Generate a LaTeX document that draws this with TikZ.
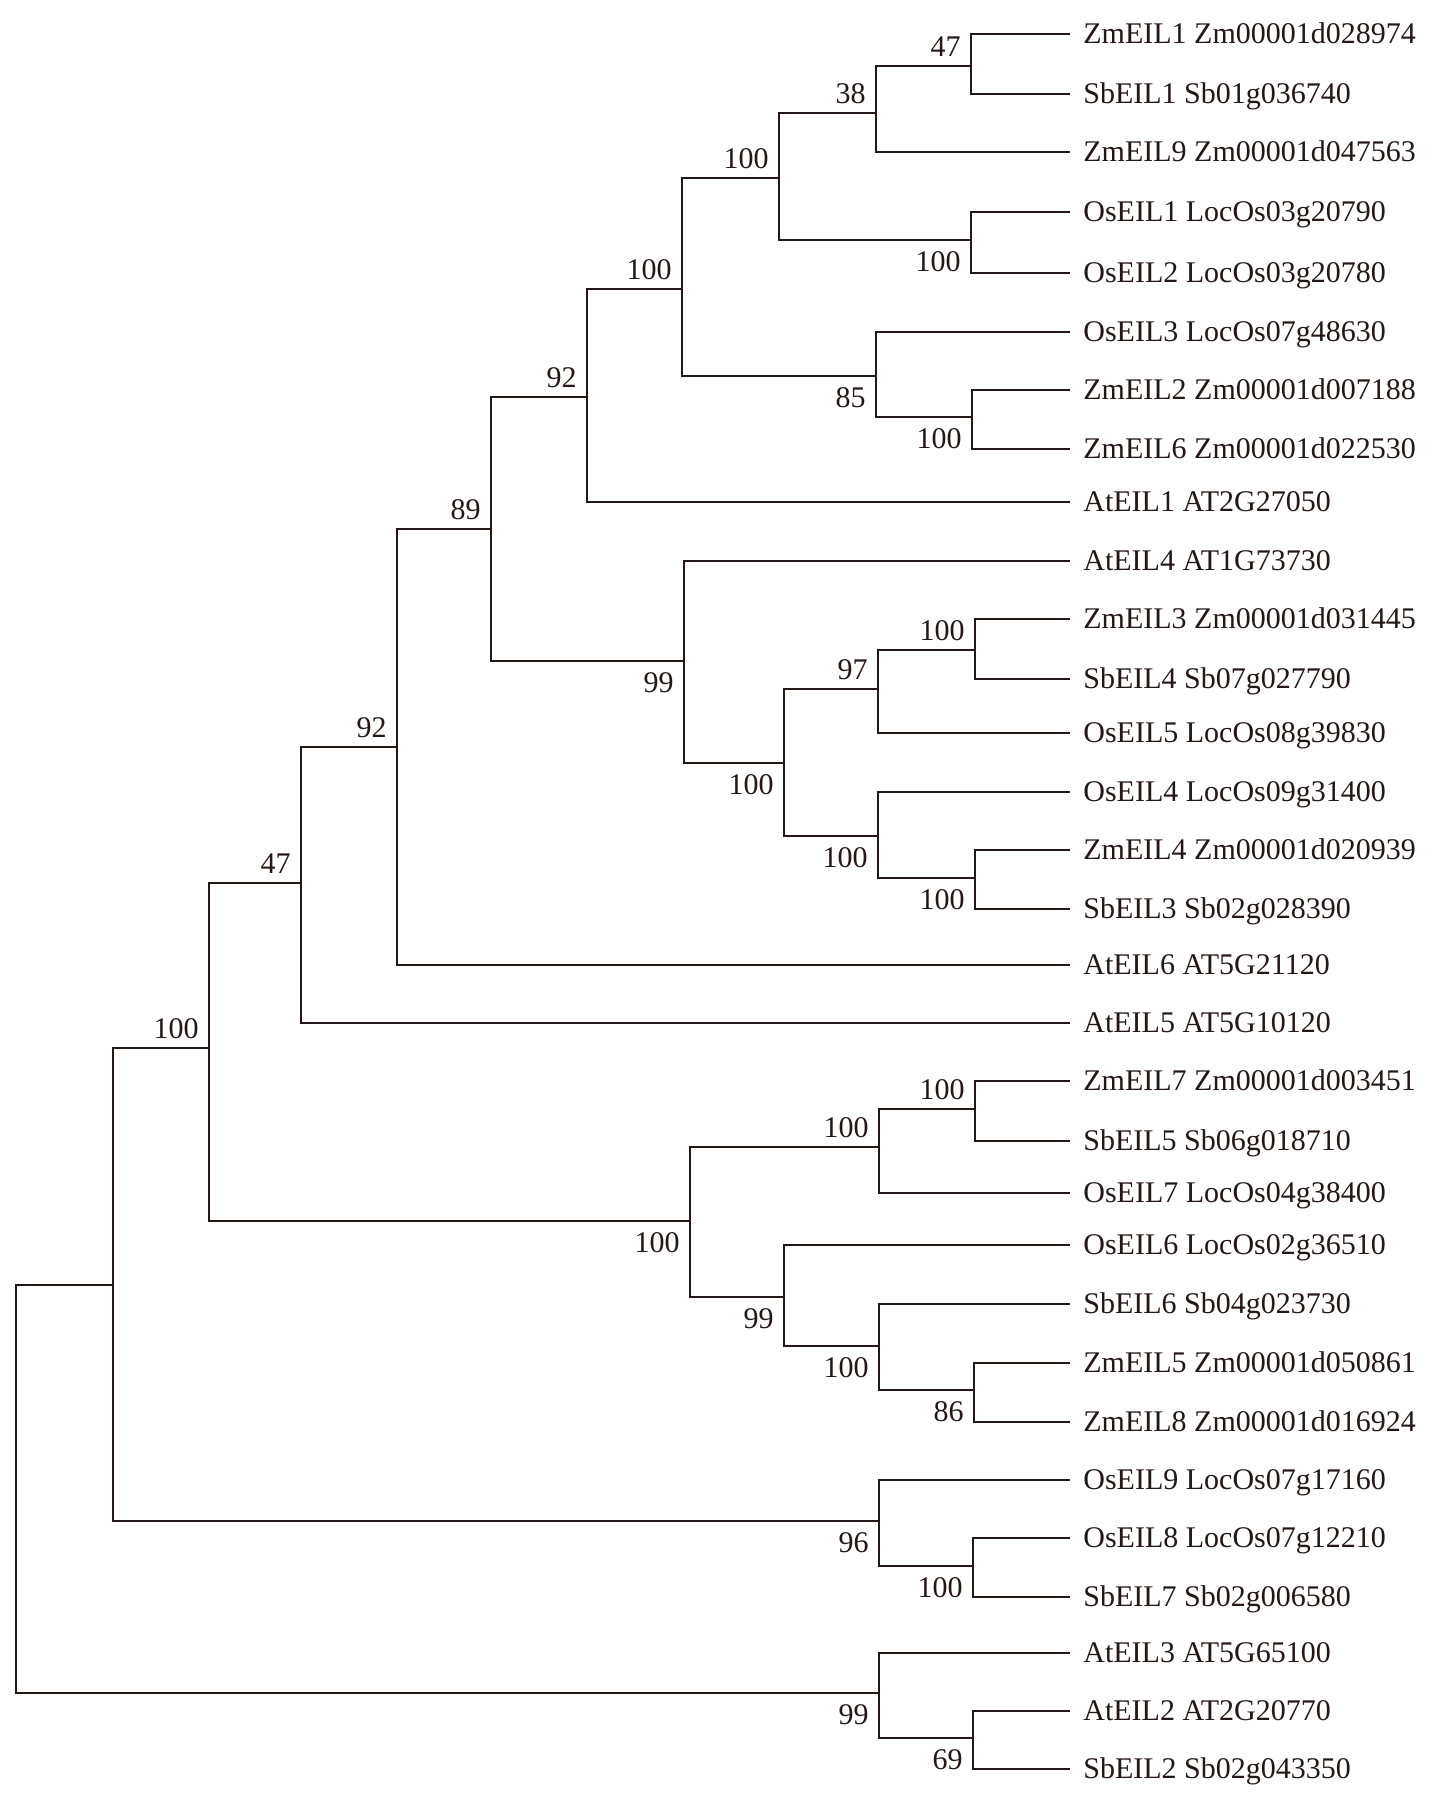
\documentclass[tikz,border=0pt]{standalone}
\usepackage{fontspec}
\setmainfont{Liberation Serif}
\usetikzlibrary{calc}
\definecolor{ink}{RGB}{35,24,21}
\begin{document}
\begin{tikzpicture}[x=0.5pt,y=-0.5pt,
  br/.style={line width=1.4pt,draw=ink},
  leaf/.style={anchor=base west,inner sep=0pt,text=ink,font=\fontsize{15}{18}\selectfont},
  bs/.style={anchor=base east,inner sep=0pt,text=ink,font=\fontsize{15}{18}\selectfont}]
\useasboundingbox (0,0) rectangle (1454,1806);
% leaves
\foreach \i/\y/\t in {
 1/34/{ZmEIL1 Zm00001d028974},
 2/94/{SbEIL1 Sb01g036740},
 3/152/{ZmEIL9 Zm00001d047563},
 4/212/{OsEIL1 LocOs03g20790},
 5/273/{OsEIL2 LocOs03g20780},
 6/332/{OsEIL3 LocOs07g48630},
 7/390/{ZmEIL2 Zm00001d007188},
 8/449/{ZmEIL6 Zm00001d022530},
 9/502/{AtEIL1 AT2G27050},
 10/561/{AtEIL4 AT1G73730},
 11/619/{ZmEIL3 Zm00001d031445},
 12/679/{SbEIL4 Sb07g027790},
 13/733/{OsEIL5 LocOs08g39830},
 14/792/{OsEIL4 LocOs09g31400},
 15/850/{ZmEIL4 Zm00001d020939},
 16/909/{SbEIL3 Sb02g028390},
 17/965/{AtEIL6 AT5G21120},
 18/1023/{AtEIL5 AT5G10120},
 19/1081/{ZmEIL7 Zm00001d003451},
 20/1141/{SbEIL5 Sb06g018710},
 21/1193/{OsEIL7 LocOs04g38400},
 22/1245/{OsEIL6 LocOs02g36510},
 23/1304/{SbEIL6 Sb04g023730},
 24/1363/{ZmEIL5 Zm00001d050861},
 25/1422/{ZmEIL8 Zm00001d016924},
 26/1480/{OsEIL9 LocOs07g17160},
 27/1538/{OsEIL8 LocOs07g12210},
 28/1597/{SbEIL7 Sb02g006580},
 29/1653/{AtEIL3 AT5G65100},
 30/1711/{AtEIL2 AT2G20770},
 31/1769/{SbEIL2 Sb02g043350}}{
  \coordinate (L\i) at (1070,\y);
  \node[leaf] (T\i) at (1083,\y+9.5) {\t};
}
% internal nodes
\coordinate (n47a) at (971,66);
\coordinate (n38) at (876,113);
\coordinate (n100a) at (779,178);
\coordinate (n100b) at (971,240);
\coordinate (n100c) at (682,289);
\coordinate (n85) at (876,376);
\coordinate (n100d) at (972,417);
\coordinate (n92a) at (587,397);
\coordinate (n89) at (491,529);
\coordinate (n99a) at (684,661);
\coordinate (n100e) at (784,763);
\coordinate (n97) at (878,689);
\coordinate (n100f) at (975,650);
\coordinate (n100g) at (878,836);
\coordinate (n100h) at (975,878);
\coordinate (n92b) at (397,747);
\coordinate (n47b) at (301,883);
\coordinate (n100i) at (209,1048);
\coordinate (n100j) at (690,1221);
\coordinate (n100k) at (879,1147);
\coordinate (n100l) at (975,1109);
\coordinate (n99b) at (784,1297);
\coordinate (n100m) at (879,1346);
\coordinate (n86) at (974,1390);
\coordinate (n113) at (113,1285);
\coordinate (n96) at (879,1521);
\coordinate (n100n) at (973,1566);
\coordinate (n99c) at (879,1693);
\coordinate (n69) at (973,1738);
\coordinate (root) at (16,1489);
% branches
\draw[br] (L1) -| (n47a) |- (L2);
\draw[br] (n47a) -| (n38) |- (L3);
\draw[br] (L4) -| (n100b) |- (L5);
\draw[br] (n38) -| (n100a) |- (n100b);
\draw[br] (L7) -| (n100d) |- (L8);
\draw[br] (L6) -| (n85) |- (n100d);
\draw[br] (n100a) -| (n100c) |- (n85);
\draw[br] (n100c) -| (n92a) |- (L9);
\draw[br] (L11) -| (n100f) |- (L12);
\draw[br] (n100f) -| (n97) |- (L13);
\draw[br] (L15) -| (n100h) |- (L16);
\draw[br] (L14) -| (n100g) |- (n100h);
\draw[br] (n97) -| (n100e) |- (n100g);
\draw[br] (L10) -| (n99a) |- (n100e);
\draw[br] (n92a) -| (n89) |- (n99a);
\draw[br] (n89) -| (n92b) |- (L17);
\draw[br] (n92b) -| (n47b) |- (L18);
\draw[br] (L19) -| (n100l) |- (L20);
\draw[br] (n100l) -| (n100k) |- (L21);
\draw[br] (L24) -| (n86) |- (L25);
\draw[br] (L23) -| (n100m) |- (n86);
\draw[br] (L22) -| (n99b) |- (n100m);
\draw[br] (n100k) -| (n100j) |- (n99b);
\draw[br] (n47b) -| (n100i) |- (n100j);
\draw[br] (L27) -| (n100n) |- (L28);
\draw[br] (L26) -| (n96) |- (n100n);
\draw[br] (n100i) -| (n113) |- (n96);
\draw[br] (L30) -| (n69) |- (L31);
\draw[br] (L29) -| (n99c) |- (n69);
\draw[br] (n113) -| (root) |- (n99c);
% bootstrap values: above / below the stem
\foreach \n/\v in {n47a/47, n38/38, n100a/100, n100c/100, n92a/92, n89/89,
  n97/97, n100f/100, n92b/92, n47b/47, n100i/100, n100k/100, n100l/100}{
  \node[bs] (b\n) at ($(\n)+(-10,-10)$) {\v};
}
\foreach \n/\v in {n100b/100, n85/85, n100d/100, n99a/99, n100e/100, n100g/100,
  n100h/100, n100j/100, n99b/99, n100m/100, n86/86, n96/96, n100n/100,
  n99c/99, n69/69}{
  \node[bs] (b\n) at ($(\n)+(-10,31)$) {\v};
}
\end{tikzpicture}
\end{document}
